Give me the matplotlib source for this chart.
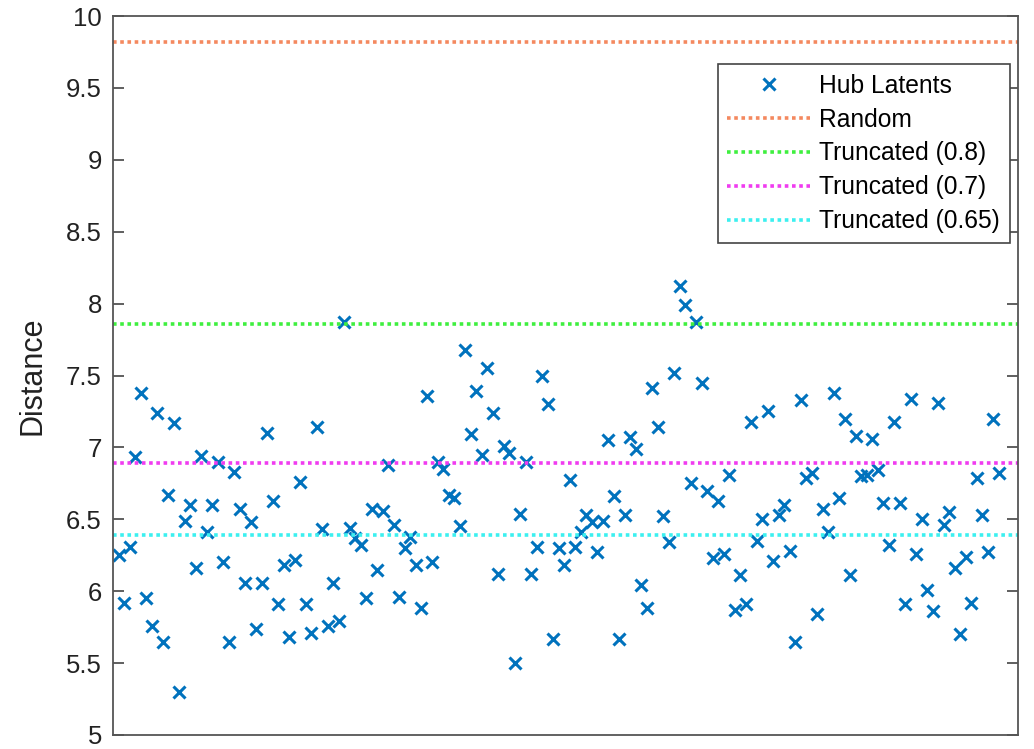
import matplotlib
matplotlib.use("Agg")
import matplotlib.pyplot as plt
import numpy as np

plt.rcParams['font.family'] = ['Liberation Sans', 'DejaVu Sans']

hub_latents = [
    6.25, 5.92, 6.31, 6.93, 7.38, 5.95, 5.76, 7.24, 5.65, 6.67,
    7.17, 5.30, 6.49, 6.60, 6.16, 6.94, 6.41, 6.60, 6.90, 6.20,
    5.65, 6.83, 6.57, 6.06, 6.48, 5.74, 6.06, 7.10, 6.63, 5.91,
    6.18, 5.68, 6.22, 6.76, 5.91, 5.71, 7.14, 6.43, 5.76, 6.06,
    5.79, 7.87, 6.44, 6.37, 6.32, 5.95, 6.57, 6.15, 6.56, 6.88,
    6.46, 5.96, 6.30, 6.38, 6.18, 5.88, 7.36, 6.20, 6.90, 6.85,
    6.67, 6.65, 6.45, 7.68, 7.09, 7.39, 6.95, 7.55, 7.24, 6.12,
    7.01, 6.96, 5.50, 6.54, 6.90, 6.12, 6.31, 7.50, 7.30, 5.67,
    6.30, 6.18, 6.77, 6.31, 6.41, 6.53, 6.48, 6.27, 6.49, 7.05,
    6.66, 5.67, 6.53, 7.07, 6.99, 6.04, 5.88, 7.41, 7.14, 6.52,
    6.34, 7.52, 8.12, 7.99, 6.75, 7.87, 7.45, 6.70, 6.23, 6.63,
    6.26, 6.81, 5.87, 6.11, 5.91, 7.18, 6.35, 6.50, 7.25, 6.21,
    6.53, 6.60, 6.28, 5.65, 7.33, 6.79, 6.82, 5.84, 6.57, 6.41,
    7.38, 6.65, 7.20, 6.11, 7.08, 6.80, 6.81, 7.06, 6.84, 6.61,
    6.32, 7.18, 6.61, 5.91, 7.34, 6.26, 6.50, 6.01, 5.86, 7.31,
    6.46, 6.55, 6.16, 5.70, 6.24, 5.92, 6.79, 6.53, 6.27, 7.20,
    6.82,
]
ref_labels = ['Random', 'Truncated (0.8)', 'Truncated (0.7)', 'Truncated (0.65)']
ref_values = [9.82, 7.86, 6.89, 6.39]
ref_colors = ['#F4895F', '#3FEF3F', '#F03CF0', '#3CF0F0']
yticks = [5, 5.5, 6, 6.5, 7, 7.5, 8, 8.5, 9, 9.5, 10]
ytick_labels = ['5', '5.5', '6', '6.5', '7', '7.5', '8', '8.5', '9', '9.5', '10']

fig = plt.figure(figsize=(10.34, 7.49), dpi=100)
ax = fig.add_axes([113/1034, 14/749, 905/1034, 719/749])

x = np.arange(1, len(hub_latents) + 1)
ax.plot(x, hub_latents, linestyle='none', marker='x', color='#0072BD',
        markersize=9, markeredgewidth=2.2, label='Hub Latents')
for lab, val, col in zip(ref_labels, ref_values, ref_colors):
    ax.axhline(val, linestyle=(0, (1, 1)), color=col, linewidth=2.6, label=lab)

ax.set_xlim(0, 164.5)
ax.set_ylim(5, 10)
ax.set_xticks([])
ax.set_yticks(yticks)
ax.set_yticklabels(ytick_labels)
ax.tick_params(axis='y', direction='in', length=8, width=1.2, labelsize=18.5,
               right=True, colors='#444444', labelcolor='#222222', pad=8)
for s in ax.spines.values():
    s.set_color('#555555')
    s.set_linewidth(1.3)
ax.set_ylabel('Distance', fontsize=22, color='#222222')
ax.yaxis.set_label_coords(-0.072, 0.5)

leg = ax.legend(loc='upper right', bbox_to_anchor=((1010-113)/905, 1-(64-16)/719),
                borderaxespad=0, fontsize=17.7, numpoints=1, handlelength=3.37,
                handletextpad=0.37, labelspacing=0.4, fancybox=False,
                framealpha=1, borderpad=0.4)
leg.get_frame().set_edgecolor('#444444')
leg.get_frame().set_linewidth(1.2)

fig.savefig('out.png', dpi=100)
